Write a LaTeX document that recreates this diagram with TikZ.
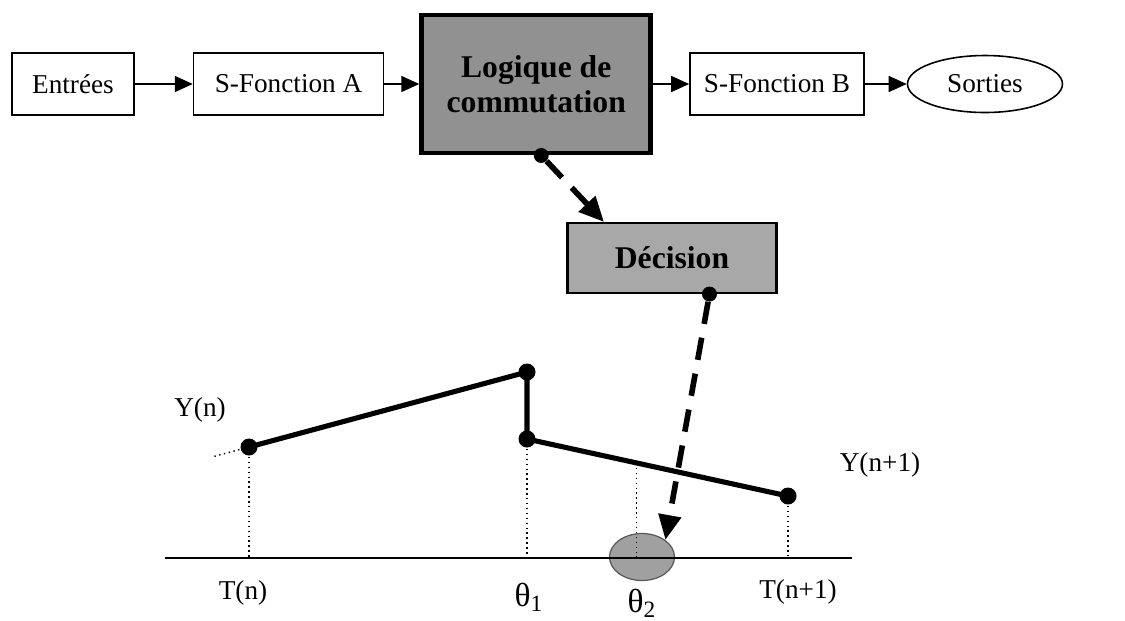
\documentclass[tikz,border=0pt]{standalone}
\usepackage{fontspec}
\setmainfont{Liberation Serif}
\usetikzlibrary{arrows.meta,positioning,calc,shapes.geometric}
\definecolor{ink}{RGB}{0,0,0}
\definecolor{gris}{RGB}{145,145,145}
\definecolor{grisclair}{RGB}{168,168,168}
\definecolor{grisell}{RGB}{160,160,160}

\begin{document}
\begin{tikzpicture}[x=0.02cm,y=-0.02cm,font=\fontsize{15.5}{18}\selectfont,
 b/.style={draw=ink,line width=0.9pt,align=center,minimum height=1.24cm,inner sep=2pt},
 g/.style={draw=ink,fill=gris,line width=2.8pt,align=center,font=\fontsize{18}{20}\selectfont\bfseries},
 fl/.style={-{Triangle[length=0.36cm,width=0.32cm]},line width=0.9pt},
 tir/.style={-{Triangle[length=0.5cm,width=0.44cm]},line width=3.2pt,dash pattern=on 0.45cm off 0.28cm},
 pt/.style={circle,fill=ink,inner sep=0pt,minimum size=0.34cm},
 pointille/.style={dotted,line width=0.8pt},
 seg/.style={line width=2.9pt},
 theta/.style={font=\fontsize{19}{21}\selectfont}]
 \useasboundingbox (0,0) rectangle (1125,620);
 % chaine du haut
 \node[b,minimum width=2.44cm](ent) at (73,84){Entrées};
 \node[b,minimum width=3.8cm,right=1.16cm of ent](sfa){S-Fonction A};
 \node[g,minimum width=4.58cm,minimum height=2.76cm,right=0.7cm of sfa](logc){Logique de\\commutation};
 \node[b,minimum width=3.48cm,right=0.72cm of logc](sfb){S-Fonction B};
 \node[draw=ink,line width=0.9pt,ellipse,minimum width=3.1cm,minimum height=1.14cm,right=0.84cm of sfb](sort){Sorties};
 \draw[fl](ent)--(sfa);
 \draw[fl](sfa)--(logc);
 \draw[fl](logc)--(sfb);
 \draw[fl](sfb)--(sort);
 % decision
 \node[g,fill=grisclair,line width=1.2pt,minimum width=4.18cm,minimum height=1.4cm](dec) at (672,258){Décision};
 % courbe
 \coordinate (o) at (165,558);
 \coordinate (fin) at (852,558);
 \node[ellipse,draw=ink!65,fill=grisell,line width=0.7pt,minimum width=1.3cm,minimum height=0.94cm,inner sep=0pt](th) at (642,557){};
 \draw[line width=1pt](o)--(fin);
 \node[pt](p1) at (249,447){};
 \node[pt](p2) at (527,372){};
 \node[pt](p3) at (527,439){};
 \node[pt](p4) at (788,496){};
 \coordinate (q) at ($(p3)!0.42!(p4)$);
 \draw[seg](p1.center)--(p2.center)--(p3.center)--(p4.center);
 \draw[pointille](p1.center)--($(p1)!-0.13!(p2)$);
 \draw[pointille](p1.center)--(p1 |- o);
 \draw[pointille](p3.center)--(p3 |- o);
 \draw[pointille](p4.center)--(p4 |- o);
 \draw[pointille](q)--(q |- o);
 \node(yn) at (200,410){Y(n)};
 \node(yn1) at (880,465){Y(n+1)};
 \node(tn) at (243,593){T(n)};
 \node(tn1) at (798,592){T(n+1)};
 \node[theta](t1) at (529,597){θ\textsubscript{1}};
 \node[theta](t2) at (642,603){θ\textsubscript{2}};
 % fleches en tirets
 \node[pt,minimum size=0.3cm](d1) at ([xshift=0.1cm]logc.south){};
 \node[pt,minimum size=0.3cm](d2) at ([xshift=0.75cm]dec.south){};
 \draw[tir](d1)--([xshift=-1.36cm]dec.north);
 \draw[tir](d2)--(th.north east);
\end{tikzpicture}
\end{document}
